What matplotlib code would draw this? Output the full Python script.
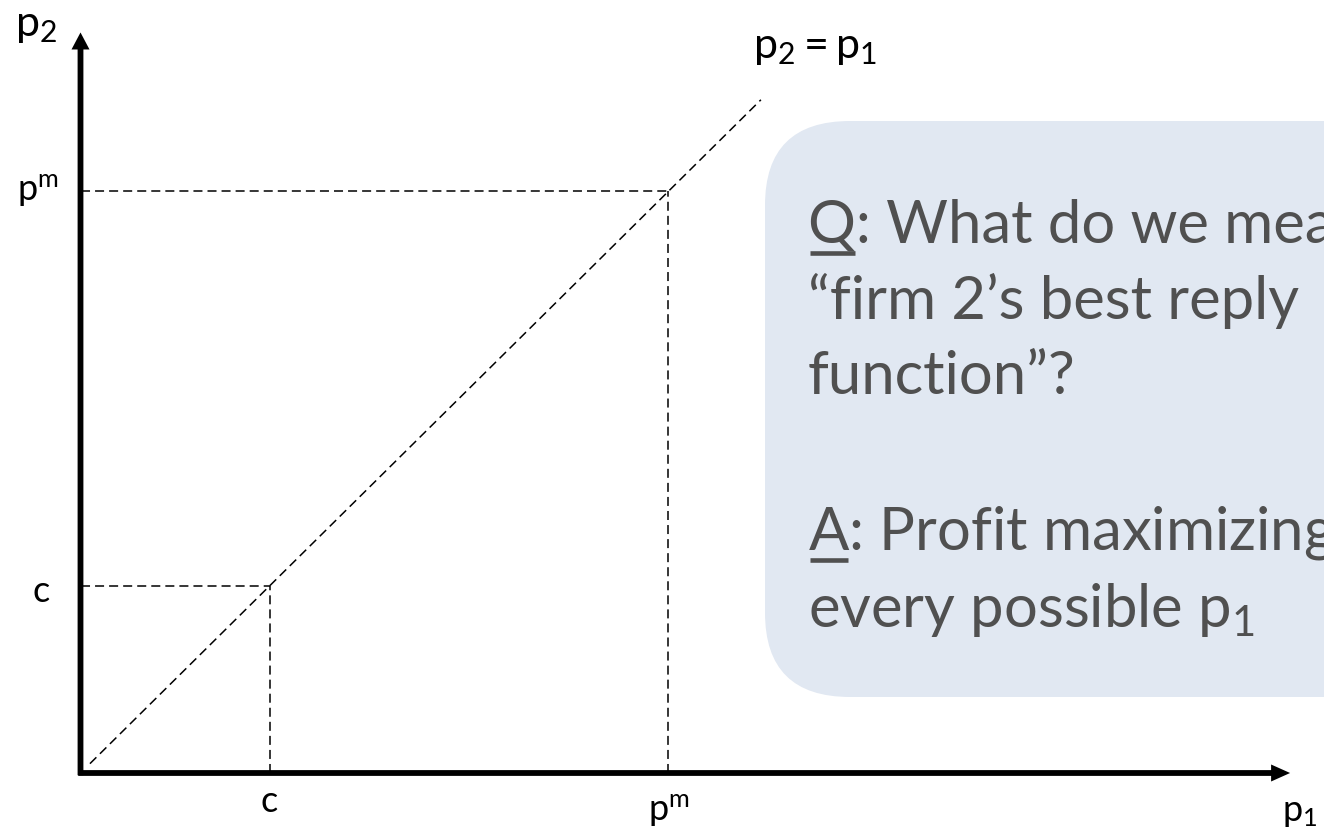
import matplotlib.pyplot as plt
from matplotlib.patches import FancyBboxPatch

plt.rcParams['font.family'] = ['Lato', 'DejaVu Sans']
plt.rcParams['mathtext.fontset'] = 'custom'
plt.rcParams['mathtext.rm'] = 'Lato'
plt.rcParams['mathtext.it'] = 'Lato'

# Diagram values (in units where c = 1).
c_val = 1.0
pm_val = 3.11
diag_x = [0.05, 3.6]
x_axis_end = 6.4
y_axis_end = 3.96

box_lines = ['Q: What do we mean by',
             '\u201cfirm 2\u2019s best reply',
             'function\u201d?',
             'A: Profit maximizing $\\mathregular{p_2}$ for',
             'every possible $\\mathregular{p_1}$']
box_baselines = [243, 319, 394, 550, 627]

# Figure geometry: pixel position of the origin and pixels per unit.
W, H = 1324, 838
OX, OY = 80.5, 773
SX, SY = 189, 187


def d(xp, yp):
    # pixel (top-left origin) -> data coordinates
    return (xp - OX) / SX, (OY - yp) / SY


fig = plt.figure(figsize=(W / 100, H / 100), dpi=100)
ax = fig.add_axes([0, 0, 1, 1])
ax.set_xlim(d(0, 0)[0], d(W, 0)[0])
ax.set_ylim(d(0, H)[1], d(0, 0)[1])
ax.axis('off')

# Rounded speech box on the right.
bx0, by0 = d(765, 697)
bx1, by1 = d(1500, 121)
box = FancyBboxPatch((bx0, by0), bx1 - bx0, by1 - by0,
                     boxstyle='round,pad=0,rounding_size=0.45',
                     fc='#e1e8f2', ec='none', zorder=0)
ax.add_patch(box)

# Dashed guide lines.
dash = dict(color='k', lw=1.1, linestyle=(0, (5.9, 3.3)), zorder=2)
ax.plot(diag_x, diag_x, **dash)
ax.plot([0, c_val], [c_val, c_val], **dash)
ax.plot([c_val, c_val], [0, c_val], **dash)
ax.plot([0, pm_val], [pm_val, pm_val], **dash)
ax.plot([pm_val, pm_val], [0, pm_val], **dash)

# Axes with arrow heads.
ax.arrow(0, -0.012, 0, y_axis_end + 0.012, width=5.8 / SX, head_width=18 / SX,
         head_length=17 / SY, length_includes_head=True, fc='k', ec='none', zorder=3)
ax.arrow(-0.012, 0, x_axis_end + 0.012, 0, width=5.8 / SY, head_width=17 / SY,
         head_length=19 / SX, length_includes_head=True, fc='k', ec='none', zorder=3)

# Axis labels.
big, small = 31, 26
ax.text(*d(15, 36), r'$\mathregular{p_2}$', fontsize=big, va='baseline')
ax.text(*d(753, 58), r'$\mathregular{p_2 = p_1}$', fontsize=big, va='baseline')
ax.text(*d(17, 201), r'$\mathregular{p^m}$', fontsize=small, va='baseline')
ax.text(*d(33, 602), 'c', fontsize=small, va='baseline')
ax.text(c_val, d(0, 812)[1], 'c', fontsize=small, ha='center', va='baseline')
ax.text(d(648, 0)[0], d(0, 821)[1], r'$\mathregular{p^m}$', fontsize=small, va='baseline')
ax.text(*d(1282, 821), r'$\mathregular{p_1}$', fontsize=small, va='baseline')

# Box text.
txt_color = '#505050'
fs_box = 43
tx = 808
for line, yb in zip(box_lines, box_baselines):
    ax.text(*d(tx, yb), line, fontsize=fs_box, color=txt_color, va='baseline', zorder=4)

# Underline the Q and A.
renderer = fig.canvas.get_renderer()
inv = ax.transData.inverted()
for letter, yb in [(box_lines[0][0], box_baselines[0]), (box_lines[3][0], box_baselines[3])]:
    t = ax.text(*d(tx, yb), letter, fontsize=fs_box, alpha=0, va='baseline')
    bb = t.get_window_extent(renderer)
    xl = inv.transform((bb.x0 + 2, 0))[0]
    xr = inv.transform((bb.x1 - 1, 0))[0]
    yu = d(0, yb + 10)[1]
    ax.plot([xl, xr], [yu, yu], color=txt_color, lw=3.3, solid_capstyle='butt', zorder=4)

fig.savefig('out.png', dpi=100)
